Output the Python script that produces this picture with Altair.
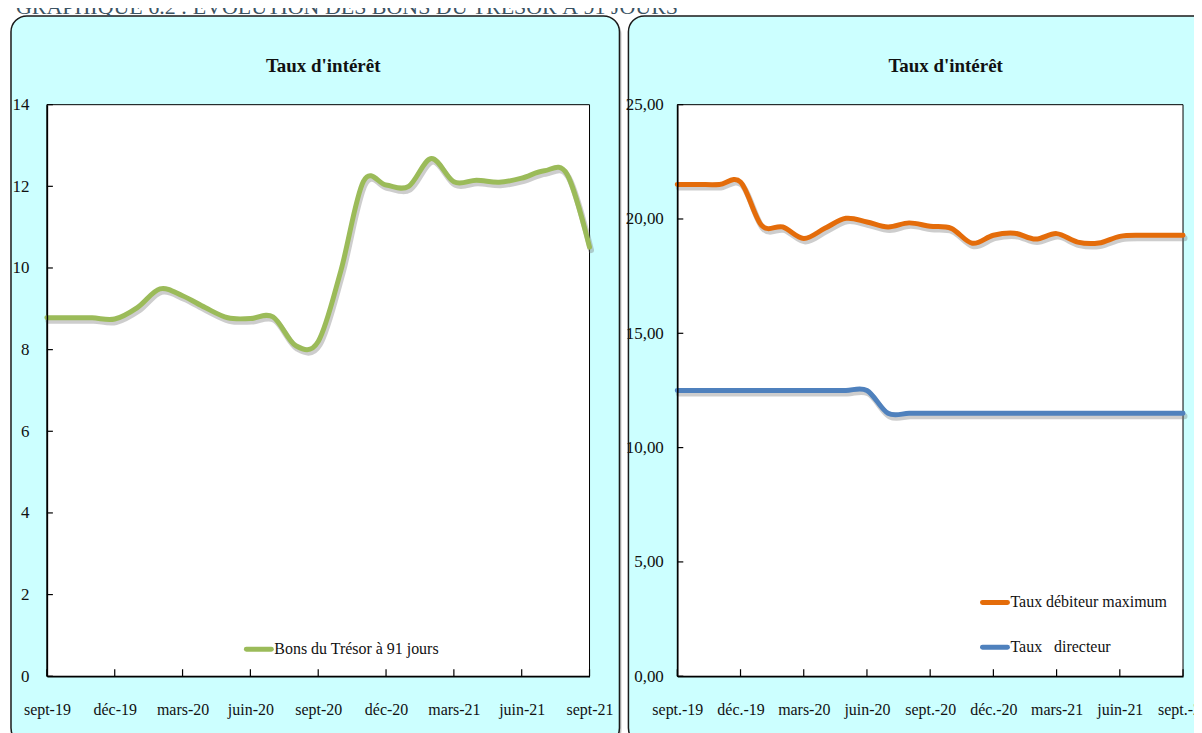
import altair as alt
import pandas as pd

# ---------------- data ----------------
months_left = ["sept-19", "oct-19", "nov-19", "déc-19", "janv-20", "févr-20", "mars-20", "avr-20",
               "mai-20", "juin-20", "juil-20", "août-20", "sept-20", "oct-20", "nov-20", "déc-20",
               "janv-21", "févr-21", "mars-21", "avr-21", "mai-21", "juin-21", "juil-21", "août-21", "sept-21"]
quarters_left = ["sept-19", "déc-19", "mars-20", "juin-20", "sept-20", "déc-20", "mars-21", "juin-21", "sept-21"]

months_right = ["sept.-19", "oct.-19", "nov.-19", "déc.-19", "janv.-20", "févr.-20", "mars-20", "avr.-20",
                "mai-20", "juin-20", "juil.-20", "août-20", "sept.-20", "oct.-20", "nov.-20", "déc.-20",
                "janv.-21", "févr.-21", "mars-21", "avr.-21", "mai-21", "juin-21", "juil.-21", "août-21", "sept.-21"]
quarters_right = ["sept.-19", "déc.-19", "mars-20", "juin-20", "sept.-20", "déc.-20", "mars-21", "juin-21", "sept.-21"]

bons_tresor = [8.78, 8.78, 8.78, 8.75, 9.03, 9.49, 9.32, 9.03, 8.78, 8.76, 8.80, 8.10, 8.20,
               9.93, 12.12, 12.03, 12.00, 12.68, 12.11, 12.15, 12.10, 12.20, 12.38, 12.30, 10.51]
taux_debiteur = [21.51, 21.51, 21.51, 21.62, 19.72, 19.65, 19.15, 19.59, 20.03, 19.87, 19.65, 19.83, 19.68,
                 19.59, 18.94, 19.29, 19.38, 19.12, 19.36, 18.99, 18.95, 19.24, 19.29, 19.29, 19.29]
taux_directeur = [12.5] * 10 + [11.5] * 15

left_series = ["Bons du Trésor à 91 jours"]
right_series = ["Taux débiteur maximum", "Taux\u00a0\u00a0 directeur"]
left_colors = ["#9BBB59"]
right_colors = ["#E46C0A", "#4F81BD"]

left_ticks = [0, 2, 4, 6, 8, 10, 12, 14]
right_ticks = [0, 5, 10, 15, 20, 25]

panel_title = "Taux d'intérêt"
page_title = "GRAPHIQUE 6.2 :  ÉVOLUTION DES BONS DU TRÉSOR À 91 JOURS"

# ---------------- style ----------------
FONT = "Liberation Serif"
CYAN = "#CCFFFF"
W1, W2, H = 544, 507, 573

dummy = pd.DataFrame({"k": [0]})


def axis_x(values):
    return alt.Axis(values=values, labelAngle=0, labelFont=FONT, labelFontSize=16, labelColor="#111",
                    ticks=False, tickSize=0, domain=True, domainColor="black", domainWidth=1.5,
                    labelPadding=25, grid=False, title=None, zindex=1)


def axis_y(values, expr=None, pad=18):
    kw = dict(values=values, labelFont=FONT, labelFontSize=17, labelColor="#111", ticks=False, tickSize=0,
              domain=True, domainColor="black", domainWidth=1.5, labelPadding=pad, grid=False,
              title=None, zindex=1)
    if expr:
        kw["labelExpr"] = expr
    return alt.Axis(**kw)


def make_panel(months, quarters, series_names, series_values, colors, ydomain, yticks, width,
               bg_x, title_x, legend_pos, yexpr, ypad, field, extra=None):
    rows = []
    for name, vals in zip(series_names, series_values):
        for m, v in zip(months, vals):
            rows.append({"mois": m, "taux": v, field: name})
    df = pd.DataFrame(rows)

    xenc = alt.X("mois:O", scale=alt.Scale(type="point", domain=months, padding=0), axis=axis_x(quarters))
    yenc = alt.Y("taux:Q", scale=alt.Scale(domain=ydomain, nice=False, zero=True), axis=axis_y(yticks, yexpr, ypad))
    cenc = alt.Color(f"{field}:N", scale=alt.Scale(domain=series_names, range=colors), legend=None)

    shadow_box = alt.Chart(dummy).mark_rect(fill="#9a9a9a", opacity=0.6, cornerRadius=16).encode(
        x=alt.value(bg_x[0] + 2), x2=alt.value(bg_x[1] + 2), y=alt.value(-87), y2=alt.value(643))
    box = alt.Chart(dummy).mark_rect(fill=CYAN, stroke="#1a1a1a", strokeWidth=1.5, cornerRadius=16).encode(
        x=alt.value(bg_x[0]), x2=alt.value(bg_x[1]), y=alt.value(-89), y2=alt.value(641))
    plot_bg = alt.Chart(dummy).mark_rect(fill="white", stroke="black", strokeWidth=1).encode(
        x=alt.value(0), x2=alt.value(width), y=alt.value(0), y2=alt.value(H))

    shadow = alt.Chart(df).mark_line(color="#6f6f6f", opacity=0.35, strokeWidth=6, interpolate="cardinal",
                                     xOffset=1.5, yOffset=3, strokeCap="round").encode(
        x=xenc, y=yenc, detail=f"{field}:N")
    line = alt.Chart(df).mark_line(strokeWidth=5, interpolate="cardinal", strokeCap="round",
                                   strokeJoin="round").encode(x=xenc, y=yenc, color=cenc)

    xt = alt.Chart(pd.DataFrame({"mois": quarters})).mark_rule(color="black", strokeWidth=1.2).encode(
        x=xenc, y=alt.value(H - 7), y2=alt.value(H))
    yt = alt.Chart(pd.DataFrame({"taux": yticks})).mark_rule(color="black", strokeWidth=1.2).encode(
        y=yenc, x=alt.value(0), x2=alt.value(6))

    title = alt.Chart(dummy).mark_text(text=panel_title, font=FONT, fontSize=19, fontWeight="bold",
                                       color="#111", align="center", baseline="middle").encode(
        x=alt.value(title_x), y=alt.value(-39))

    lx, ly, gap = legend_pos
    legend_df = pd.DataFrame({field: series_names})
    legend_df["ypos"] = [ly + gap * i for i in range(len(series_names))]
    leg_line = alt.Chart(legend_df).mark_rule(strokeWidth=5, strokeCap="round").encode(
        x=alt.value(lx), x2=alt.value(lx + 25), y=alt.Y("ypos:Q", scale=None), color=cenc)
    leg_text = alt.Chart(legend_df).mark_text(font=FONT, fontSize=16, color="#111", align="left",
                                              baseline="middle").encode(
        x=alt.value(lx + 28), y=alt.Y("ypos:Q", scale=None), text=f"{field}:N")

    layers = [shadow_box, box, plot_bg, shadow, line, xt, yt, title, leg_line, leg_text]
    if extra is not None:
        layers.append(extra)
    return alt.layer(*layers).properties(width=width, height=H)


page_title_mark = alt.Chart(dummy).mark_text(text=page_title, font=FONT, fontSize=22, color="#3B5363",
                                             align="left", baseline="alphabetic").encode(
    x=alt.value(-31), y=alt.value(-91))

left = make_panel(months_left, quarters_left, left_series, [bons_tresor], left_colors, [0, 14], left_ticks,
                  W1, (-36, 574), 277, (200, 546, 0), None, 18, "serie_g", extra=page_title_mark)
right = make_panel(months_right, quarters_right, right_series, [taux_debiteur, taux_directeur], right_colors,
                   [0, 25], right_ticks, W2, (-49, 537), 269, (306, 499, 45),
                   "replace(format(datum.value, '.2f'), '.', ',')", 14, "serie_d")

chart = alt.hconcat(left, right, spacing=88, bounds="flush").resolve_scale(
    color="independent"
).properties(
    padding={"left": 2, "top": -13, "right": -21, "bottom": -12}
).configure_view(stroke=None, fill=None)

chart.save("out.html", embed_options={"renderer": "svg", "actions": False})
